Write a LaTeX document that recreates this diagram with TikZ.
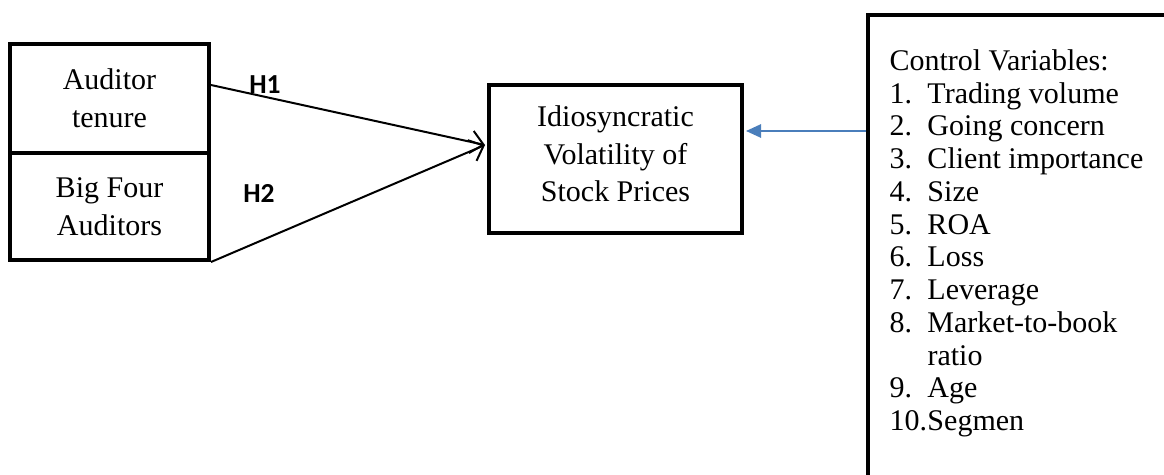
\documentclass[tikz,border=0pt]{standalone}
\usepackage{fontspec}
\setmainfont{Liberation Serif}
\newfontfamily\hfont{Carlito}
\usetikzlibrary{arrows.meta,calc}
\definecolor{arrowblue}{HTML}{4A7EBB}
\begin{document}
\begin{tikzpicture}[x=0.4pt,y=-0.4pt,
  box/.style={draw,line width=1.6pt,inner sep=0pt,align=center,font=\fontsize{12}{15.3}\selectfont},
  txt/.style={inner sep=0pt},
  hyp/.style={line width=0.8pt,-{Straight Barb[length=5pt,width=9pt,line width=0.8pt]}},
  ctrlarrow/.style={draw=arrowblue,line width=0.8pt,-{Triangle[length=6pt,width=5.3pt]}},
  hlabel/.style={inner sep=0pt,font=\hfont\bfseries\fontsize{11}{13}\selectfont}
]
\useasboundingbox (0,0) rectangle (1164,474);
% left boxes
\node[box,minimum width=79.6pt,minimum height=43.6pt] (tenure) at (109.5,98.5) {Auditor\\tenure};
\node[box,minimum width=79.6pt,minimum height=42.8pt] (bigfour) at (109.5,206.5) {Big Four\\Auditors};
% centre box
\node[box,minimum width=101.2pt,minimum height=59.2pt] (idio) at (615.5,159) {};
\node[txt,align=center,font=\fontsize{12}{15}\selectfont] (idiotext) at (615.5,154) {Idiosyncratic\\Volatility of\\Stock Prices};
% control box (runs off the page)
\begin{scope}
  \clip (0,0) rectangle (1164,474);
  \node[box,anchor=north west,minimum width=140pt,minimum height=200pt] (ctrl) at (866,13) {};
\end{scope}
\node[txt,anchor=north west,align=left,font=\fontsize{12}{13.1}\selectfont] (ctrltext) at (889,49)
  {Control Variables:\\
   \makebox[15.2pt][l]{1.}Trading volume\\
   \makebox[15.2pt][l]{2.}Going concern\\
   \makebox[15.2pt][l]{3.}Client importance\\
   \makebox[15.2pt][l]{4.}Size\\
   \makebox[15.2pt][l]{5.}ROA\\
   \makebox[15.2pt][l]{6.}Loss\\
   \makebox[15.2pt][l]{7.}Leverage\\
   \makebox[15.2pt][l]{8.}Market-to-book\\
   \makebox[15.2pt][l]{}ratio\\
   \makebox[15.2pt][l]{9.}Age\\
   \makebox[15.2pt][l]{10.}Segmen};
% connectors
\coordinate (h1start) at ($(tenure.east)+(0,-13.5)$);
\coordinate (tip) at ($(idio.west)+(-2,-14)$);
\draw[hyp] (h1start) -- (tip);
\draw[hyp] (bigfour.south east) -- (tip);
\coordinate (cstart) at ($(ctrl.north west)+(0,118)$);
\coordinate (cend) at ($(idio.east)+(2,-28)$);
\draw[ctrlarrow] (cstart) -- (cend);
% labels
\node[hlabel] (h1) at (265,85) {H1};
\node[hlabel] (h2) at (259,193) {H2};
\end{tikzpicture}
\end{document}
